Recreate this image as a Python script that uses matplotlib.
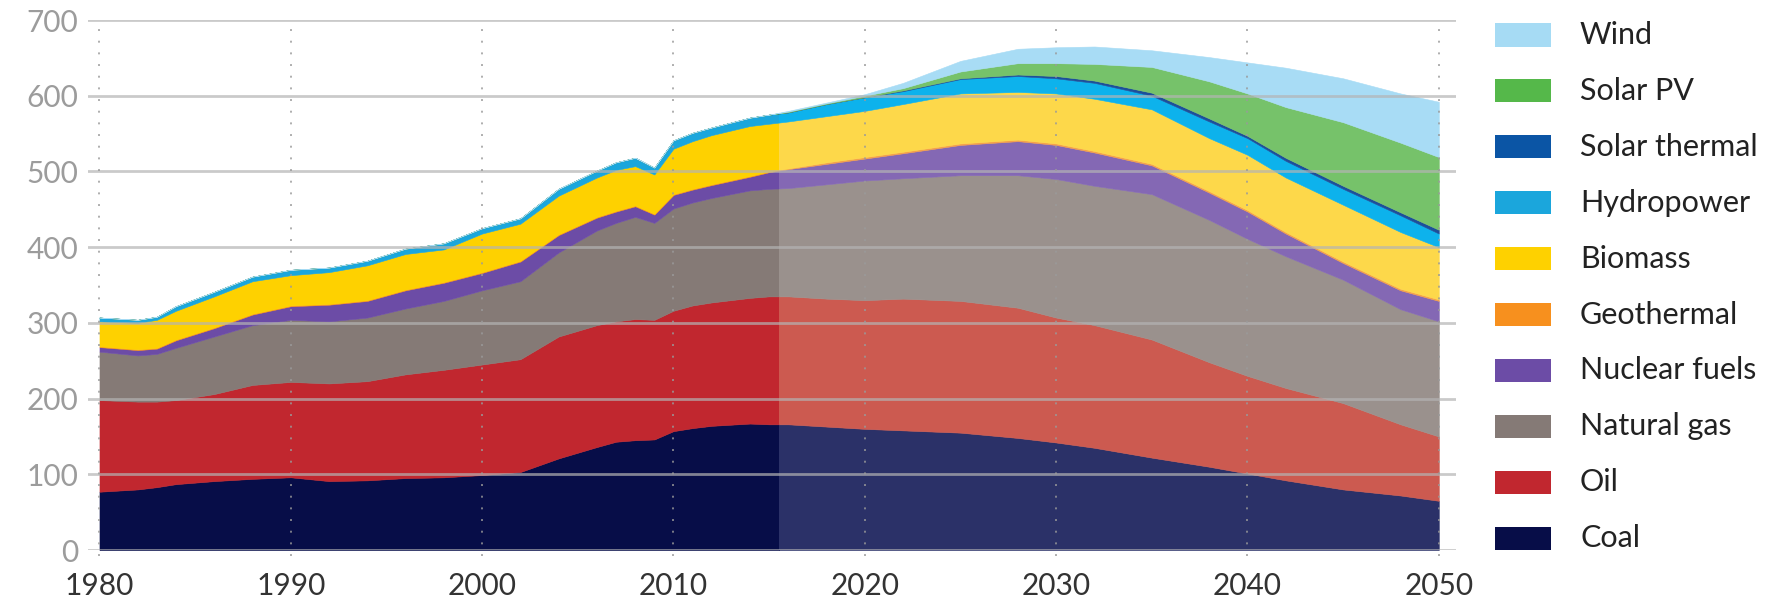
import matplotlib
matplotlib.use("Agg")
import matplotlib.pyplot as plt
from matplotlib.patches import Rectangle

plt.rcParams["font.family"] = ["Lato", "DejaVu Sans"]

# Energy supply by source (EJ/yr), history to 2015 and projection to 2050
years = [1980, 1982, 1983, 1984, 1986, 1988, 1990, 1992, 1994, 1996, 1998,
         2000, 2002, 2004, 2006, 2007, 2008, 2009, 2010, 2011, 2012, 2014,
         2015, 2016, 2018, 2020, 2022, 2025, 2028, 2030, 2032, 2035, 2038,
         2040, 2042, 2045, 2048, 2050]

coal = [77, 80, 83, 87, 91, 94, 96, 91, 92, 95, 96, 99, 103, 121, 136, 143,
        145, 146, 157, 161, 164, 167, 166, 166, 163, 160, 158, 155, 148, 142,
        135, 122, 110, 101, 92, 80, 72, 65]
oil = [121, 116, 113, 111, 115, 124, 126, 129, 131, 137, 142, 146, 149, 161,
       161, 159, 160, 158, 159, 162, 163, 166, 169, 169, 169, 170, 174, 174,
       172, 165, 162, 156, 138, 129, 122, 114, 94, 85]
natural_gas = [64, 61, 63, 69, 76, 79, 82, 82, 84, 87, 91, 98, 103, 111, 125,
               130, 135, 128, 135, 136, 138, 142, 142, 143, 151, 158, 159, 166,
               175, 183, 184, 192, 188, 181, 174, 163, 152, 152]
nuclear = [6, 7, 7, 10, 11, 14, 18, 22, 22, 24, 24, 23, 26, 23, 17, 15, 14, 11,
           18, 17, 17, 18, 22, 25, 27, 29, 33, 40, 45, 45, 44, 38, 36, 36, 30,
           22, 25, 27]
geothermal = [1, 1, 1, 1, 1, 1, 1, 1, 1, 1, 1, 1, 1, 1, 1, 1, 1, 1, 1, 1, 1, 1,
              1, 1, 2, 2, 2, 2, 2, 2, 2, 2, 2, 2, 2, 2, 2, 2]
biomass = [33, 35, 37, 38, 41, 43, 40, 42, 46, 47, 43, 51, 49, 51, 52, 54, 52,
           52, 60, 63, 65, 66, 63, 62, 61, 61, 63, 66, 63, 66, 69, 72, 70, 73,
           72, 75, 75, 69]
hydropower = [5, 4, 4, 6, 6, 6, 7, 6, 6, 7, 8, 7, 7, 9, 9, 10, 11, 9, 11, 11,
              10, 11, 12, 12, 16, 18, 17, 19, 21, 20, 21, 18, 22, 22, 22, 21,
              22, 18]
solar_thermal = [0, 0, 0, 0, 0, 0, 0, 0, 0, 0, 0, 0, 0, 0, 0, 0, 0, 0, 0, 0, 0,
                 0, 0, 0, 0, 0, 1, 1, 2, 3, 3, 4, 4, 3, 4, 4, 4, 5]
solar_pv = [0, 0, 0, 0, 0, 0, 0, 0, 0, 0, 0, 0, 0, 0, 0, 0, 0, 0, 0, 0, 0, 0,
            0, 1, 1, 2, 3, 9, 15, 17, 22, 34, 49, 56, 67, 84, 92, 96]
wind = [0, 0, 0, 0, 0, 0, 0, 0, 0, 0, 0, 0, 0, 0, 0, 0, 0, 0, 0, 0, 0, 0,
        0, 1, 1, 2, 7, 14, 19, 21, 23, 22, 32, 41, 52, 58, 65, 73]

labels = ["Coal", "Oil", "Natural gas", "Nuclear fuels", "Geothermal",
          "Biomass", "Hydropower", "Solar thermal", "Solar PV", "Wind"]
series = [coal, oil, natural_gas, nuclear, geothermal, biomass, hydropower,
          solar_thermal, solar_pv, wind]

hist_colors = ["#070d48", "#c1272f", "#857a76", "#6c4ca6", "#f7901e",
               "#fed100", "#1ba6dc", "#0b55a5", "#55b84a", "#a6dbf4"]
proj_colors = ["#2b3168", "#cc5a50", "#9a918d", "#8468b4", "#f5a04a",
               "#fdd84a", "#0db2ec", "#1d4f9a", "#76c26a", "#a8dcf5"]

split_year = 2015.5
x_min, x_max = 1979.4, 2050.9

W, H = 1776, 604
fig = plt.figure(figsize=(W / 100, H / 100), dpi=100)
ax = fig.add_axes([88 / W, 54 / H, (1456 - 88) / W, (550 - 20) / H])

hist = ax.stackplot(years, *series, colors=hist_colors, linewidth=0.4,
                    edgecolor="face", zorder=1)
proj = ax.stackplot(years, *series, colors=proj_colors, linewidth=0.4,
                    edgecolor="face", zorder=1.1)

clip_hist = Rectangle((x_min - 1, -50), split_year - x_min + 1, 900,
                      transform=ax.transData)
clip_proj = Rectangle((split_year, -50), 60, 900, transform=ax.transData)
for coll in hist:
    coll.set_clip_path(clip_hist)
for coll in proj:
    coll.set_clip_path(clip_proj)

ax.set_xlim(x_min, x_max)
ax.set_ylim(0, 700)

# grid drawn over the areas
for yv in range(0, 701, 100):
    ax.axhline(yv, color="#b4b4b4", lw=2.0, alpha=0.7, zorder=3)
for xv in range(1980, 2051, 10):
    ax.plot([xv, xv], [-8, 700], color="#9a9a9a", lw=1.4, ls=(0, (1, 5)),
            alpha=0.8, zorder=3, clip_on=False)

for s in ax.spines.values():
    s.set_visible(False)

ax.set_xticks(range(1980, 2051, 10))
ax.set_yticks(range(0, 701, 100))
ax.tick_params(axis="x", length=0, pad=16, labelsize=21.5, labelcolor="#333333")
ax.tick_params(axis="y", length=0, pad=7, labelsize=21.5, labelcolor="#9c9c9c")

# legend
legend_order = ["Wind", "Solar PV", "Solar thermal", "Hydropower", "Biomass",
                "Geothermal", "Nuclear fuels", "Natural gas", "Oil", "Coal"]
color_of = dict(zip(labels, hist_colors))
y0, step = 35, 55.9
for i, name in enumerate(legend_order):
    yc = y0 + i * step
    fig.add_artist(Rectangle((1495 / W, 1 - (yc + 11.5) / H), 56 / W, 23 / H,
                             transform=fig.transFigure,
                             facecolor=color_of[name], edgecolor="none"))
    fig.text(1580 / W, 1 - yc / H, name, fontsize=22, color="#222222",
             va="center", ha="left")

fig.savefig("out.png", dpi=100, facecolor="white")
